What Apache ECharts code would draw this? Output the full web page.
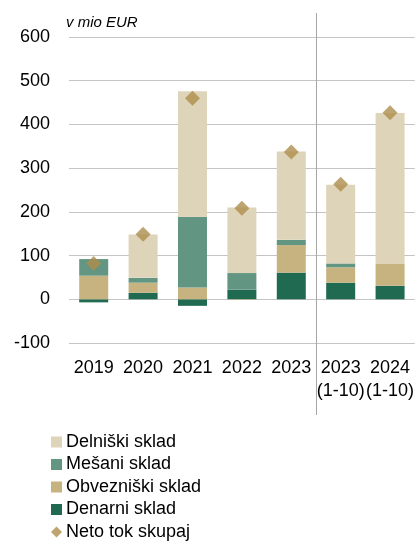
<!DOCTYPE html>
<html>
<head>
<meta charset="utf-8">
<script src="https://cdn.jsdelivr.net/npm/echarts@6/dist/echarts.min.js"></script>
<style>
  html, body { margin: 0; padding: 0; background: #fff; }
  #main { width: 417px; height: 542px; }
</style>
</head>
<body>
<div id="main"></div>
<script>
var categories = ['2019', '2020', '2021', '2022', '2023', '2023\n(1-10)', '2024\n(1-10)'];
var denarni = [-7, 15, -15, 22, 61, 38, 31];
var obveznicki = [54, 23, 27, -1, 63, 35, 51];
var mesani = [38, 11, 162, 38, 12, 9, 0];
var delniski = [0, 99, 287, 150, 202, 180, 344];
var netoTok = [82, 149, 460, 208, 337, 263, 427];

var font = '"Liberation Sans", Arial, sans-serif';

var myChart = echarts.init(document.getElementById('main'));

function barSeries(name, data, color) {
    return {
        name: name,
        type: 'bar',
        stack: 'total',
        barWidth: 29,
        data: data,
        itemStyle: { color: color },
        emphasis: { disabled: true }
    };
}

option = {
    animation: false,
    textStyle: { fontFamily: font },
    grid: { left: 69, right: 1, top: 37, bottom: 199 },
    legend: {
        orient: 'vertical',
        left: 51,
        top: 431,
        padding: 0,
        height: 120,
        itemWidth: 11,
        itemHeight: 11,
        itemGap: 0.5,
        textStyle: { fontFamily: font, fontSize: 18, color: '#000', lineHeight: 22, padding: [0, 0, 0, -1] },
        data: [
            { name: 'Delniški sklad', icon: 'rect' },
            { name: 'Mešani sklad', icon: 'rect' },
            { name: 'Obvezniški sklad', icon: 'rect' },
            { name: 'Denarni sklad', icon: 'rect' },
            { name: 'Neto tok skupaj', icon: 'diamond', itemStyle: { color: '#ae8d4c' } }
        ]
    },
    xAxis: {
        type: 'category',
        data: categories,
        axisLine: { show: false },
        axisTick: { show: false },
        axisLabel: { fontFamily: font, fontSize: 18, color: '#000', lineHeight: 23, margin: 14, interval: 0 }
    },
    yAxis: {
        type: 'value',
        min: -100,
        max: 600,
        interval: 100,
        axisLine: { show: false },
        axisTick: { show: false },
        axisLabel: { fontFamily: font, fontSize: 18, color: '#000', margin: 19 },
        splitLine: { lineStyle: { color: '#c4c4c4', width: 1 } }
    },
    series: [
        barSeries('Denarni sklad', denarni, '#1f6a50'),
        barSeries('Obvezniški sklad', obveznicki, '#c7b380'),
        barSeries('Mešani sklad', mesani, '#639682'),
        barSeries('Delniški sklad', delniski, '#ded4b9'),
        {
            name: 'Neto tok skupaj',
            type: 'scatter',
            symbol: 'diamond',
            symbolSize: 15,
            data: netoTok,
            itemStyle: { color: '#ae8d4c' },
            z: 5
        }
    ]
};
myChart.setOption(option);

// vertical separator between annual data and 1-10 periods
var x4 = myChart.convertToPixel({ xAxisIndex: 0 }, categories[4]);
var x5 = myChart.convertToPixel({ xAxisIndex: 0 }, categories[5]);
var sepX = Math.round((x4 + x5) / 2) + 0.5;
myChart.setOption({
    graphic: [
        {
            type: 'line',
            shape: { x1: sepX, y1: 13, x2: sepX, y2: 415 },
            style: { stroke: '#a6a6a6', lineWidth: 1 },
            z: 10
        },
        {
            type: 'text',
            left: 66,
            top: 15,
            style: { text: 'v mio EUR', font: 'italic 15px ' + font, fill: '#000' }
        }
    ]
});
</script>
</body>
</html>
